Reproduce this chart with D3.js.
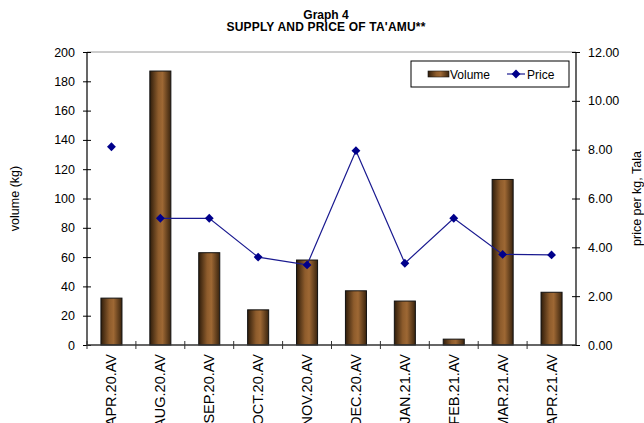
<!DOCTYPE html>
<html>
<head>
<meta charset="utf-8">
<script src="https://cdn.jsdelivr.net/npm/d3@7"></script>
<style>
body{margin:0;background:#fff;}
svg{font-family:"Liberation Sans",Arial,sans-serif;}
</style>
</head>
<body>
<div class="canvas"></div>
<script>
var months = ['APR.20.AV','AUG.20.AV','SEP.20.AV','OCT.20.AV','NOV.20.AV','DEC.20.AV','JAN.21.AV','FEB.21.AV','MAR.21.AV','APR.21.AV'];
var volume = [32,187,63,24,58,37,30,4,113,36];
var price = [8.12,5.19,5.19,3.6,3.28,7.96,3.35,5.19,3.71,3.69];
// price line is broken after the first month (months missing in between)
var priceLinked = [false,true,true,true,true,true,true,true,true,true];
var volTicks = [0,20,40,60,80,100,120,140,160,180,200];
var priceTicks = [0,2,4,6,8,10,12];

var W = 644, H = 423;
var margin = {t:52,r:68,b:78,l:87};
var width = W - margin.l - margin.r,
    height = H - margin.t - margin.b;

var svg = d3.select('.canvas').append('svg')
    .attr('width',W)
    .attr('height',H);

var defs = svg.append('defs');
var grad = defs.append('linearGradient').attr('id','barGrad')
    .attr('x1','0%').attr('x2','100%').attr('y1','0%').attr('y2','0%');
grad.append('stop').attr('offset','0%').attr('stop-color','#2f1d0b');
grad.append('stop').attr('offset','40%').attr('stop-color','#8e5c2c');
grad.append('stop').attr('offset','60%').attr('stop-color','#9e6834');
grad.append('stop').attr('offset','100%').attr('stop-color','#3a240e');

var plot = svg.append('g')
    .attr('transform','translate('+margin.l+','+margin.t+')');

var x = d3.scaleBand().domain(months).range([0,width]).paddingInner(0.57).paddingOuter(0.285);
var xb = d3.scaleBand().domain(months).range([0,width]);
var yL = d3.scaleLinear().domain([0,200]).range([height,0]);
var yR = d3.scaleLinear().domain([0,12]).range([height,0]);

// top border of plot area
plot.append('line')
    .attr('x1',0).attr('x2',width).attr('y1',0).attr('y2',0)
    .style('stroke','#9a9a9a').style('stroke-width',1);

// bars
plot.selectAll('.bar').data(volume).enter().append('rect')
    .attr('class','bar')
    .attr('x',function(d,i){return x(months[i]);})
    .attr('width',x.bandwidth())
    .attr('y',function(d){return yL(d);})
    .attr('height',function(d){return height - yL(d);})
    .style('fill','url(#barGrad)')
    .style('stroke','#111')
    .style('stroke-width',1);

// axes
var leftAxis = plot.append('g')
    .call(d3.axisLeft(yL).tickValues(volTicks).tickSize(4).tickPadding(8));
var rightAxis = plot.append('g')
    .attr('transform','translate('+width+',0)')
    .call(d3.axisRight(yR).tickValues(priceTicks).tickSize(4).tickPadding(8).tickFormat(d3.format('.2f')));
[leftAxis,rightAxis].forEach(function(ax){
    ax.select('.domain').remove();
    ax.selectAll('.tick line').attr('x1',-4).attr('x2',4).style('stroke','#000');
    ax.selectAll('text').style('font-size','12.5px').style('fill','#000');
    ax.append('line').attr('x1',0).attr('x2',0).attr('y1',0).attr('y2',height)
        .style('stroke','#000').style('stroke-width',1.2);
});

var bottomAxis = plot.append('g')
    .attr('transform','translate(0,'+height+')');
bottomAxis.append('line').attr('x1',0).attr('x2',width).attr('y1',0).attr('y2',0)
    .style('stroke','#333').style('stroke-width',1.5);
bottomAxis.selectAll('.xt').data(months).enter().append('line')
    .attr('x1',function(d){return xb(d);}).attr('x2',function(d){return xb(d);})
    .attr('y1',-4).attr('y2',4)
    .style('stroke','#333');
bottomAxis.selectAll('.xl').data(months).enter().append('text')
    .attr('transform',function(d){return 'translate('+(xb(d)+xb.bandwidth()/2+5)+',9) rotate(-90)';})
    .attr('text-anchor','end')
    .style('font-size','14.5px')
    .text(function(d){return d;});

// price line
var line = d3.line()
    .defined(function(d,i){return priceLinked[i];})
    .x(function(d,i){return xb(months[i])+xb.bandwidth()/2;})
    .y(function(d){return yR(d);});
plot.append('path').datum(price)
    .attr('d',line)
    .style('fill','none')
    .style('stroke','#1a1a90')
    .style('stroke-width',1.2);

var diamond = d3.symbol().type(d3.symbolDiamond2).size(50);
plot.selectAll('.pt').data(price).enter().append('path')
    .attr('d',diamond)
    .attr('transform',function(d,i){return 'translate('+(xb(months[i])+xb.bandwidth()/2)+','+yR(d)+')';})
    .style('fill','#00008b');

// axis titles
svg.append('text')
    .attr('transform','translate(19,'+(margin.t+height/2)+') rotate(-90)')
    .attr('text-anchor','middle')
    .style('font-size','12.5px')
    .text('volume (kg)');
svg.append('text')
    .attr('transform','translate(641,'+(margin.t+height/2)+') rotate(-90)')
    .attr('text-anchor','middle')
    .style('font-size','12.5px')
    .text('price per kg, Tala');

// title
svg.append('text').attr('x',326).attr('y',18.5).attr('text-anchor','middle')
    .style('font-size','12px').style('font-weight','bold').text('Graph 4');
svg.append('text').attr('x',326).attr('y',31).attr('text-anchor','middle')
    .style('font-size','12px').style('font-weight','bold').style('letter-spacing','0.2px')
    .text("SUPPLY AND PRICE OF TA'AMU**");

// legend
var lg = svg.append('g').attr('transform','translate(411,61)');
lg.append('rect').attr('width',158).attr('height',26)
    .style('fill','#fff').style('stroke','#000').style('stroke-width',1);
lg.append('rect').attr('x',17).attr('y',10).attr('width',21).attr('height',6)
    .style('fill','url(#barGrad)').style('stroke','#111').style('stroke-width',0.6);
lg.append('text').attr('x',39).attr('y',18).style('font-size','12px').text('Volume');
lg.append('line').attr('x1',96).attr('x2',114).attr('y1',13).attr('y2',13)
    .style('stroke','#1a1a90').style('stroke-width',1.2);
lg.append('path').attr('d',diamond).attr('transform','translate(105,13)').style('fill','#00008b');
lg.append('text').attr('x',116).attr('y',18).style('font-size','12px').text('Price');
</script>
</body>
</html>
